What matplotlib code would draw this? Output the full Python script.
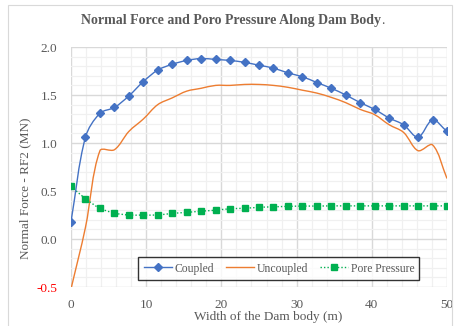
import numpy as np
import matplotlib
matplotlib.use("Agg")
import matplotlib.pyplot as plt
from matplotlib.path import Path
from matplotlib.patches import PathPatch, Rectangle
from matplotlib.lines import Line2D

plt.rcParams['font.family'] = ['Liberation Serif', 'DejaVu Serif']

# width along dam body (m)
width = [0.0, 1.92, 3.85, 5.77, 7.69, 9.62, 11.54, 13.46, 15.38, 17.31,
         19.23, 21.15, 23.08, 25.0, 26.92, 28.85, 30.77, 32.69, 34.62, 36.54,
         38.46, 40.38, 42.31, 44.23, 46.15, 48.08, 50.0]

coupled = [0.18, 1.06, 1.31, 1.37, 1.49, 1.64, 1.76, 1.82, 1.86, 1.88,
           1.87, 1.86, 1.84, 1.81, 1.78, 1.73, 1.69, 1.63, 1.57, 1.50,
           1.42, 1.35, 1.26, 1.19, 1.06, 1.24, 1.12]

uncoupled = [-0.52, 0.12, 0.92, 0.93, 1.12, 1.25, 1.40, 1.47, 1.54, 1.57,
             1.60, 1.60, 1.61, 1.61, 1.60, 1.58, 1.55, 1.52, 1.475, 1.42,
             1.35, 1.295, 1.19, 1.11, 0.92, 0.98, 0.63]

pore = [0.55, 0.42, 0.32, 0.27, 0.25, 0.25, 0.25, 0.267, 0.277, 0.29,
        0.30, 0.315, 0.32, 0.33, 0.335, 0.34, 0.343, 0.343, 0.345, 0.345,
        0.345, 0.345, 0.345, 0.345, 0.345, 0.345, 0.345]


def smooth_path(ax, x, y):
    # excel-like smoothed line, control points worked out in screen space
    tr = ax.transData
    p = tr.transform(np.column_stack([x, y]))
    n = len(p)
    d = np.hypot(*np.diff(p, axis=0).T)
    tang = np.zeros_like(p)
    for i in range(n):
        a = p[i - 1] if i > 0 else p[i]
        b = p[i + 1] if i < n - 1 else p[i]
        da = d[i - 1] if i > 0 else 0
        db = d[i] if i < n - 1 else 0
        tang[i] = (b - a) / (da + db)
    verts = [p[0]]
    codes = [Path.MOVETO]
    for i in range(n - 1):
        c1 = p[i] + tang[i] * d[i] / 3.0
        c2 = p[i + 1] - tang[i + 1] * d[i] / 3.0
        verts += [c1, c2, p[i + 1]]
        codes += [Path.CURVE4] * 3
    verts = tr.inverted().transform(np.array(verts))
    return Path(verts, codes)


blue = '#4472C4'
orange = '#ED7D31'
green = '#00B050'
grey = '#595959'

fig = plt.figure(figsize=(4.56, 3.26), dpi=100)
ax = fig.add_axes([71 / 456, 1 - 287 / 326, 376 / 456, 240 / 326])
ax.set_xlim(0, 50)
ax.set_ylim(-0.5, 2.0)

ax.add_patch(PathPatch(smooth_path(ax, width, uncoupled), fill=False,
                       edgecolor=orange, lw=1.0, zorder=3))
ax.add_patch(PathPatch(smooth_path(ax, width, coupled), fill=False,
                       edgecolor=blue, lw=1.0, zorder=4))
ax.add_patch(PathPatch(smooth_path(ax, width, pore), fill=False,
                       edgecolor=green, lw=1.0, linestyle=(0, (1, 1.5)), zorder=3))
ax.plot(width, coupled, linestyle='none', marker='D', markersize=4.5,
        color=blue, zorder=5)
ax.plot(width, pore, linestyle='none', marker='s', markersize=4.3,
        color=green, zorder=5)

ax.set_xticks(np.arange(0, 51, 10))
ax.set_yticks(np.arange(-0.5, 2.01, 0.5))
ax.set_xticks(np.arange(0, 51, 2), minor=True)
ax.set_yticks(np.arange(-0.5, 2.01, 0.1), minor=True)
ax.set_yticklabels(['-0.5', '0.0', '0.5', '1.0', '1.5', '2.0'])
ax.grid(which='major', color='#D9D9D9', lw=1.0, zorder=0)
ax.grid(which='minor', color='#F0F0F0', lw=0.9, zorder=0)
ax.set_axisbelow(True)
for s in ax.spines.values():
    s.set_visible(False)
ax.tick_params(which='both', length=0, labelsize=9.5, labelcolor=grey)
ax.tick_params(axis='x', pad=9)
ax.tick_params(axis='y', pad=10)
ax.get_yticklabels()[0].set_color('#FF0000')

ax.set_xlabel('Width of the Dam body (m)', fontsize=9.5, color=grey)
ax.xaxis.set_label_coords(0.525, -0.1)
ax.set_ylabel('Normal Force - RF2 (MN)', fontsize=9.5, color=grey)
ax.yaxis.set_label_coords(-0.105, 0.41)

title = fig.text(0.507, 0.938, 'Normal Force and Poro Pressure Along Dam Body',
                 fontsize=10, fontweight='bold', color=grey, ha='center', va='center')
ax.annotate('.', xy=(1, 0), xycoords=title, fontsize=10, color=grey,
            ha='left', va='bottom', annotation_clip=False)

handles = [Line2D([], [], color=blue, marker='D', markersize=4.5, lw=1.0),
           Line2D([], [], color=orange, lw=1.0),
           Line2D([], [], color=green, marker='s', markersize=4.3, lw=1.0,
                  linestyle=(0, (1, 1.5)))]
leg = ax.legend(handles, ['Coupled', 'Uncoupled', 'Pore Pressure'], ncol=3,
                loc='center', bbox_to_anchor=(0.553, 0.077), fontsize=8.4,
                frameon=True, fancybox=False, handlelength=2.4, handletextpad=0.25,
                columnspacing=1.0, borderpad=0.45, labelcolor=grey)
leg.get_frame().set_edgecolor('black')
leg.get_frame().set_linewidth(1.0)

fig.patches.append(Rectangle((8 / 456, -0.01), 444 / 456, 1 - 5 / 326 + 0.01,
                             transform=fig.transFigure, fill=False,
                             edgecolor='#D9D9D9', lw=0.8))

fig.savefig('out.png', dpi=100)
